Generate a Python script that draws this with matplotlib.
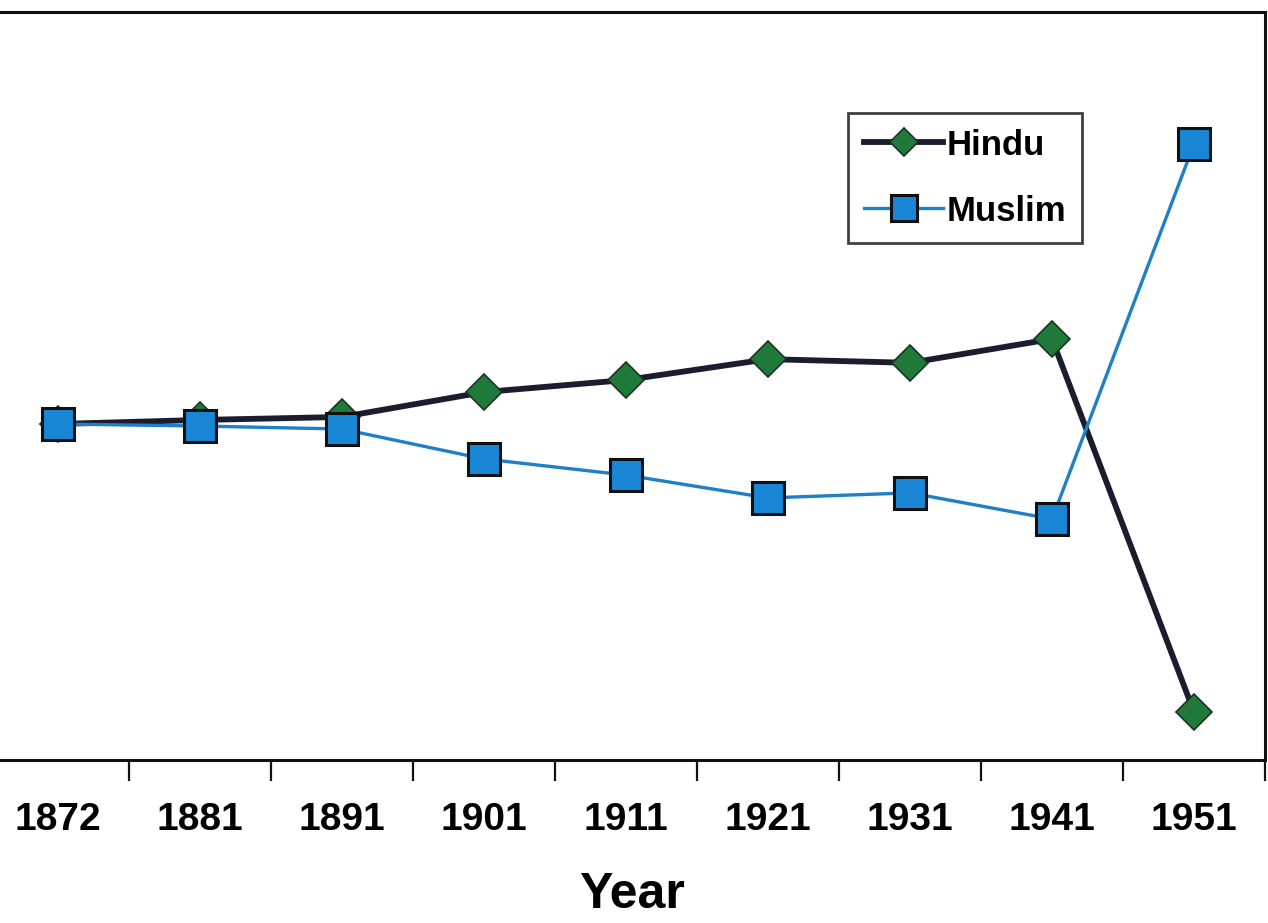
import matplotlib
matplotlib.use("Agg")
import matplotlib.pyplot as plt
from matplotlib.ticker import FixedLocator

years = ["1872", "1881", "1891", "1901", "1911", "1921", "1931", "1941", "1951"]
hindu = [100.0, 101.2, 102.1, 109.5, 113.1, 119.3, 118.2, 125.3, 14.3]
muslim = [100.0, 99.4, 98.5, 89.6, 84.8, 78.0, 79.5, 71.7, 183.3]

fam = ['Liberation Sans', 'DejaVu Sans']
plt.rcParams['font.family'] = fam

W, H = 1268, 923
fig = plt.figure(figsize=(W / 100, H / 100), dpi=100)
left_px, right_px, top_px, bottom_px = -13, 1265, 12, 760
ax = fig.add_axes([left_px / W, (H - bottom_px) / H, (right_px - left_px) / W, (bottom_px - top_px) / H])

x = list(range(len(years)))
ax.plot(x, hindu, color='#1b1d2e', lw=4.2, marker='D', ms=18, mfc='#1f7a3a',
        mec='#1b3322', mew=1.2, label='Hindu', zorder=3)
ax.plot(x, muslim, color='#1f7fc8', lw=2.4, marker='s', ms=23, mfc='#1a86d6',
        mec='#111111', mew=2.2, label='Muslim', zorder=4)

ax.set_xlim(-0.5, len(years) - 0.5)
ax.set_ylim(0, 748 / 3.36)
ax.set_yticks([])
ax.spines['left'].set_visible(False)
for s in ['top', 'right', 'bottom']:
    ax.spines[s].set_linewidth(2.2)
    ax.spines[s].set_color('#111111')

ax.set_xticks(x)
ax.set_xticklabels(years, fontsize=28, fontweight='bold', family=fam)
ax.tick_params(axis='x', which='major', length=0, pad=30)
ax.xaxis.set_minor_locator(FixedLocator([i + 0.5 for i in range(len(years))]))
ax.tick_params(axis='x', which='minor', length=15, width=1.6, direction='out', color='#111111')

fig.text(632 / W, 1 - 895 / H, 'Year', ha='center', va='center', fontsize=36,
         fontweight='bold', family=fam)

leg = ax.legend(loc='upper left', bbox_to_anchor=(848 / W, 1 - 113 / H),
                bbox_transform=fig.transFigure,
                prop={'family': fam, 'weight': 'bold', 'size': 25},
                handlelength=2.3, handletextpad=0.1, labelspacing=0.95,
                borderpad=0.45, borderaxespad=0, frameon=True, fancybox=False,
                markerscale=0.8)
leg.get_frame().set_edgecolor('#111111')
leg.get_frame().set_linewidth(2.0)

fig.savefig('out.png', dpi=100)
